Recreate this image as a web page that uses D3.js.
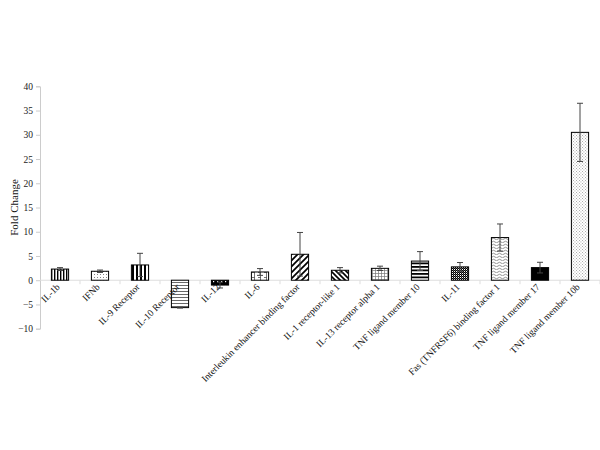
<!DOCTYPE html>
<html>
<head>
<meta charset="utf-8">
<script src="https://cdn.jsdelivr.net/npm/d3@7"></script>
<style>
  body { margin: 0; background: #fff; }
  svg { display: block; }
  text { font-family: "Liberation Serif", "Times New Roman", serif; }
</style>
</head>
<body>
<svg id="chart" width="600" height="450"></svg>
<script>
'use strict';

var categories = [
    'IL-1b', 'IFNb', 'IL-9 Receptor', 'IL-10 Receptor', 'IL-12', 'IL-6',
    'Interleukin enhancer binding factor', 'IL-1 receptor-like 1',
    'IL-13 receptor alpha 1', 'TNF ligand member 10', 'IL-11',
    'Fas (TNFRSF6) binding factor 1', 'TNF ligand member 17',
    'TNF ligand member 10b'
];
var foldChange = [2.3, 1.85, 3.15, -5.65, -1.0, 1.7, 5.35, 2.05, 2.45, 3.95, 2.75, 8.8, 2.6, 30.5];
var errors = [0.3, 0.25, 2.4, 0.1, 0.6, 0.7, 4.5, 0.55, 0.45, 1.95, 0.9, 2.8, 1.1, 6.0];
var yTicks = [-10, -5, 0, 5, 10, 15, 20, 25, 30, 35, 40];

// one fill pattern per bar, in category order
var patternNames = ['vlinesDense', 'dots', 'vlinesWide', 'hlinesLight', 'darkDots', 'sparseGrid',
    'upDiag', 'downDiag', 'smallGrid', 'hlinesDark', 'checker', 'waves', 'solid', 'fineDots'];

var svg = d3.select('#chart'),
    margin = {left: 40, right: 600, top: 86.3, bottom: 328.7};

var x = d3.scaleBand()
    .domain(categories)
    .range([margin.left, margin.right])
    .paddingInner(0.57)
    .paddingOuter(0.285);

var y = d3.scaleLinear()
    .domain([-10, 40])
    .range([margin.bottom, margin.top]);

var defs = svg.append('defs');

function addPattern(id, w, h, draw) {
    var p = defs.append('pattern')
        .attr('id', id)
        .attr('patternUnits', 'userSpaceOnUse')
        .attr('width', w)
        .attr('height', h);
    p.append('rect').attr('width', w).attr('height', h).attr('fill', '#fff');
    draw(p);
}

addPattern('vlinesDense', 3, 3, function(p) {
    p.append('rect').attr('x', 0).attr('width', 1.4).attr('height', 3).attr('fill', '#000');
});
addPattern('vlinesWide', 4, 4, function(p) {
    p.append('rect').attr('x', 0).attr('width', 2).attr('height', 4).attr('fill', '#000');
});
addPattern('dots', 3, 3, function(p) {
    p.append('rect').attr('x', 1).attr('y', 1).attr('width', 0.9).attr('height', 0.9).attr('fill', '#666');
});
addPattern('hlinesLight', 4, 3, function(p) {
    p.append('rect').attr('y', 0).attr('width', 4).attr('height', 0.8).attr('fill', '#444');
});
addPattern('darkDots', 4, 4, function(p) {
    p.append('rect').attr('width', 4).attr('height', 4).attr('fill', '#000');
    p.append('rect').attr('x', 1).attr('y', 1).attr('width', 1.2).attr('height', 1.2).attr('fill', '#fff');
});
addPattern('sparseGrid', 6, 5, function(p) {
    p.append('rect').attr('x', 2).attr('y', 0).attr('width', 0.8).attr('height', 5).attr('fill', '#555');
    p.append('rect').attr('x', 0).attr('y', 2).attr('width', 3).attr('height', 0.8).attr('fill', '#555');
});
addPattern('upDiag', 6, 6, function(p) {
    p.append('path').attr('d', 'M-1,7 L7,-1 M-4,4 L4,-4 M2,10 L10,2')
        .attr('stroke', '#000').attr('stroke-width', 1.7);
});
addPattern('downDiag', 5, 5, function(p) {
    p.append('path').attr('d', 'M-1,-1 L6,6 M-3.5,1.5 L1.5,6.5 M1.5,-3.5 L6.5,1.5')
        .attr('stroke', '#000').attr('stroke-width', 1.6);
});
addPattern('smallGrid', 3, 3, function(p) {
    p.append('rect').attr('x', 0).attr('width', 0.7).attr('height', 3).attr('fill', '#777');
    p.append('rect').attr('y', 0).attr('width', 3).attr('height', 0.7).attr('fill', '#777');
});
addPattern('hlinesDark', 4, 3.5, function(p) {
    p.append('rect').attr('y', 0).attr('width', 4).attr('height', 1.8).attr('fill', '#000');
});
addPattern('checker', 2, 2, function(p) {
    p.append('rect').attr('width', 1).attr('height', 1).attr('fill', '#000');
    p.append('rect').attr('x', 1).attr('y', 1).attr('width', 1).attr('height', 1).attr('fill', '#000');
    p.append('rect').attr('x', 1).attr('width', 1).attr('height', 1).attr('fill', '#555');
});
addPattern('waves', 6, 3, function(p) {
    p.append('path').attr('d', 'M0,2 Q1.5,0.5 3,2 T6,2')
        .attr('fill', 'none').attr('stroke', '#666').attr('stroke-width', 0.7);
});
addPattern('solid', 4, 4, function(p) {
    p.append('rect').attr('width', 4).attr('height', 4).attr('fill', '#000');
});
addPattern('fineDots', 3, 3, function(p) {
    p.append('rect').attr('x', 0).attr('y', 0).attr('width', 0.9).attr('height', 0.9).attr('fill', '#999');
    p.append('rect').attr('x', 1.5).attr('y', 1.5).attr('width', 0.9).attr('height', 0.9).attr('fill', '#999');
});

// y axis
var yAxis = svg.append('g')
    .attr('transform', 'translate(' + margin.left + ',0)')
    .call(d3.axisLeft(y).tickValues(yTicks).tickSize(4).tickPadding(3));
yAxis.select('.domain').attr('stroke', '#ccc');
yAxis.selectAll('.tick line').attr('stroke', '#ccc');
yAxis.selectAll('.tick text')
    .attr('font-family', '"Liberation Serif", serif')
    .attr('font-size', 9.5)
    .attr('fill', '#222');

svg.append('text')
    .attr('transform', 'translate(14,' + y(15) + ') rotate(-90)')
    .attr('text-anchor', 'middle')
    .attr('dy', '0.35em')
    .attr('font-size', 11)
    .attr('fill', '#111')
    .text('Fold Change');

// zero line with category ticks
var xAxis = svg.append('g')
    .attr('transform', 'translate(0,' + y(0) + ')');
xAxis.append('line')
    .attr('x1', margin.left).attr('x2', margin.right)
    .attr('stroke', '#ddd');
xAxis.selectAll('line.cat')
    .data(categories)
    .enter().append('line')
        .attr('class', 'cat')
        .attr('x1', function(d) { return x(d) - x.step() * x.paddingInner() / 2 + x.step(); })
        .attr('x2', function(d) { return x(d) - x.step() * x.paddingInner() / 2 + x.step(); })
        .attr('y1', 0).attr('y2', 4)
        .attr('stroke', '#ddd');

// bars
svg.selectAll('rect.bar')
    .data(categories)
    .enter().append('rect')
        .attr('class', 'bar')
        .attr('x', function(d) { return x(d); })
        .attr('width', x.bandwidth())
        .attr('y', function(d, i) { return y(Math.max(0, foldChange[i])); })
        .attr('height', function(d, i) { return Math.abs(y(foldChange[i]) - y(0)); })
        .attr('fill', function(d, i) { return 'url(#' + patternNames[i] + ')'; })
        .attr('stroke', '#000')
        .attr('stroke-width', 1);

// error bars
var err = svg.selectAll('g.err')
    .data(categories)
    .enter().append('g')
        .attr('class', 'err')
        .attr('stroke', '#444')
        .attr('stroke-width', 1);

function cx(d) { return x(d) + x.bandwidth() / 2; }

err.append('line')
    .attr('x1', cx).attr('x2', cx)
    .attr('y1', function(d, i) { return y(foldChange[i] - errors[i]); })
    .attr('y2', function(d, i) { return y(foldChange[i] + errors[i]); });
err.append('line')
    .attr('x1', function(d) { return cx(d) - 3; })
    .attr('x2', function(d) { return cx(d) + 3; })
    .attr('y1', function(d, i) { return y(foldChange[i] + errors[i]); })
    .attr('y2', function(d, i) { return y(foldChange[i] + errors[i]); });
err.append('line')
    .attr('x1', function(d) { return cx(d) - 3; })
    .attr('x2', function(d) { return cx(d) + 3; })
    .attr('y1', function(d, i) { return y(foldChange[i] - errors[i]); })
    .attr('y2', function(d, i) { return y(foldChange[i] - errors[i]); });

// rotated category labels
svg.selectAll('text.cat')
    .data(categories)
    .enter().append('text')
        .attr('class', 'cat')
        .attr('transform', function(d) {
            return 'translate(' + (cx(d) - 2) + ',' + (y(0) + 5) + ') rotate(-45)';
        })
        .attr('text-anchor', 'end')
        .attr('dy', '0.35em')
        .attr('font-size', 9.5)
        .attr('fill', '#111')
        .text(function(d) { return d; });
</script>
</body>
</html>
